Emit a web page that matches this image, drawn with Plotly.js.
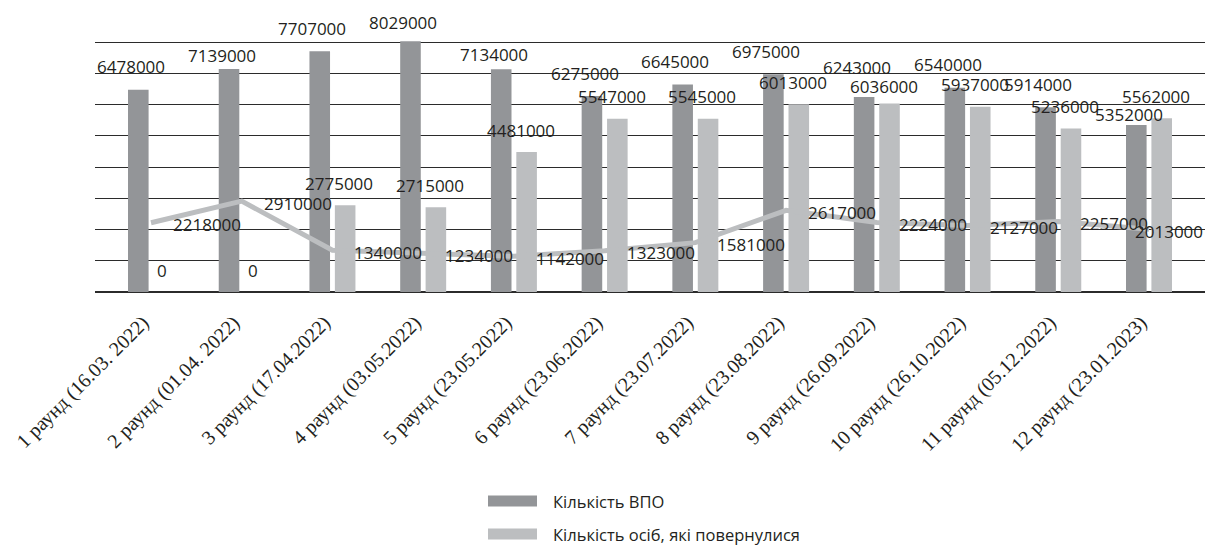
<!DOCTYPE html>
<html>
<head>
<meta charset="utf-8">
<script src="https://cdn.plot.ly/plotly-3.0.1.min.js"></script>
<style>
  html, body { margin: 0; padding: 0; background: #ffffff; }
  #chart { width: 1216px; height: 546px; }
</style>
</head>
<body>
<div id="chart"></div>
<script>
// ---- data ----
const categories = [
  '1 раунд (16.03. 2022)', '2 раунд (01.04. 2022)', '3 раунд (17.04.2022)',
  '4 раунд (03.05.2022)', '5 раунд (23.05.2022)', '6 раунд (23.06.2022)',
  '7 раунд (23.07.2022)', '8 раунд (23.08.2022)', '9 раунд (26.09.2022)',
  '10 раунд (26.10.2022)', '11 раунд (05.12.2022)', '12 раунд (23.01.2023)'
];
const seriesNames = ['Кількість ВПО', 'Кількість осіб, які повернулися'];
const idpValues = [6478000, 7139000, 7707000, 8029000, 7134000, 6275000, 6645000, 6975000, 6243000, 6540000, 5914000, 5352000];
const returnedValues = [0, 0, 2775000, 2715000, 4481000, 5547000, 5545000, 6013000, 6036000, 5937000, 5236000, 5562000];
const lineValues = [2218000, 2910000, 1340000, 1234000, 1142000, 1323000, 1581000, 2617000, 2224000, 2127000, 2257000, 2013000];

// ---- styling ----
const darkGray = '#939598';
const lightGray = '#bcbec0';
const textColor = '#231f20';
const labelFont = { family: 'Open Sans, sans-serif', size: 17, color: textColor };
const margin = { l: 95, r: 11, t: 11, b: 254 };
const W = 1216, H = 546;
const plotW = W - margin.l - margin.r;
const plotH = H - margin.t - margin.b;
const px2x = px => (px - margin.l) / plotW;
const px2y = py => (H - margin.b - py) / plotH;

// label placement tweaks (pixels), to mimic the original label layout
const darkNudge = { 1: -9, 3: -4, 4: -8, 8: 7, 11: -13 };
const lightNudge = { 8: -5 };

const fmt = v => String(v);

const traces = [
  { type: 'bar', name: seriesNames[0], x: categories, y: idpValues,
    marker: { color: darkGray }, showlegend: false, hoverinfo: 'x+y' },
  { type: 'bar', name: seriesNames[1], x: categories, y: returnedValues,
    marker: { color: lightGray }, showlegend: false, hoverinfo: 'x+y' },
  { type: 'scatter', mode: 'lines', name: '', x: categories, y: lineValues,
    line: { color: lightGray, width: 5 }, showlegend: false, hoverinfo: 'x+y' }
];

const annotations = [];
categories.forEach((c, i) => {
  annotations.push({ x: c, y: idpValues[i], xref: 'x', yref: 'y', text: fmt(idpValues[i]),
    showarrow: false, xanchor: 'center', yanchor: 'middle', xshift: -20,
    yshift: 23 + (darkNudge[i] || 0), font: labelFont });
  annotations.push({ x: c, y: returnedValues[i], xref: 'x', yref: 'y', text: fmt(returnedValues[i]),
    showarrow: false, xanchor: 'center', yanchor: 'middle', xshift: returnedValues[i] === 0 ? 11 : 7,
    yshift: 22 + (lightNudge[i] || 0), font: labelFont });
  const last = i === categories.length - 1;
  annotations.push({ x: c, y: lineValues[i], xref: 'x', yref: 'y', text: fmt(lineValues[i]),
    showarrow: false, xanchor: 'center', yanchor: 'middle', xshift: last ? 20 : 56,
    yshift: -2, font: labelFont });
});

// custom legend
const legendRows = [
  { name: seriesNames[0], color: darkGray, cy: 501 },
  { name: seriesNames[1], color: lightGray, cy: 534 }
];
const shapes = [];
legendRows.forEach(r => {
  shapes.push({ type: 'rect', xref: 'paper', yref: 'paper',
    x0: px2x(488), x1: px2x(537), y0: px2y(r.cy - 5.5), y1: px2y(r.cy + 5.5),
    fillcolor: r.color, line: { width: 0 } });
  annotations.push({ xref: 'paper', yref: 'paper', x: px2x(551), y: px2y(r.cy),
    xanchor: 'left', yanchor: 'middle', showarrow: false, text: r.name,
    font: { family: 'Open Sans, sans-serif', size: 16.5, color: textColor } });
});

const layout = {
  width: W, height: H,
  margin: margin,
  paper_bgcolor: '#ffffff', plot_bgcolor: '#ffffff',
  barmode: 'group', bargap: 0.44, bargroupgap: 0.19,
  showlegend: false,
  xaxis: {
    type: 'category', tickangle: -45, showgrid: false, showline: false, zeroline: false,
    ticks: '', tickfont: { family: 'Liberation Serif, Times New Roman, serif', size: 20, color: textColor },
    ticklabelstandoff: 14, ticklabelshift: -8,
    automargin: false
  },
  yaxis: {
    range: [0, 9000000], dtick: 1000000, tick0: 0, showgrid: true, gridcolor: '#2b2b2b', gridwidth: 1,
    zeroline: true, zerolinecolor: '#2b2b2b', zerolinewidth: 1.2, showticklabels: false, ticks: '', showline: false,
    fixedrange: true
  },
  annotations: annotations,
  shapes: shapes
};

Plotly.newPlot('chart', traces, layout, { displayModeBar: false, staticPlot: true });
</script>
</body>
</html>
